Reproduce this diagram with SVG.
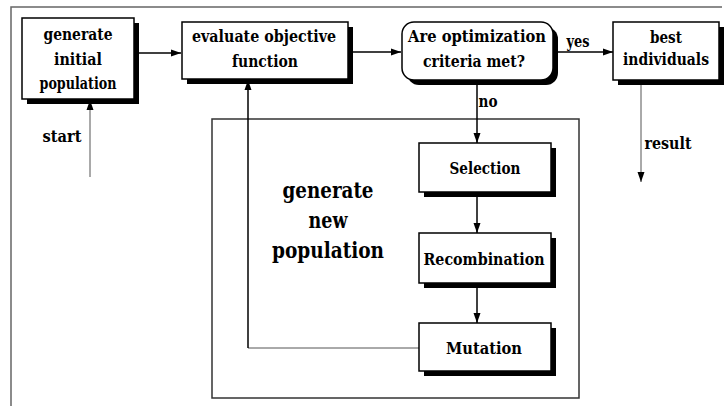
<svg xmlns="http://www.w3.org/2000/svg" width="725" height="406" viewBox="0 0 725 406">
<style>
.box{fill:#fff;stroke:#000;stroke-width:1.5}
.sh{fill:#000}
text{font-family:'DejaVu Serif','Liberation Serif',serif;font-weight:bold;font-size:17px;fill:#000;text-anchor:middle}
.big{font-size:22px}
.lbl{font-size:16px}
.c{fill:none;stroke:#000;stroke-width:1.5}
.g{fill:none;stroke:#555;stroke-width:1}
</style>
<defs>
<marker id="ah" markerUnits="userSpaceOnUse" markerWidth="10" markerHeight="8" refX="10" refY="4" orient="auto">
<path d="M0,0.5 L10,4 L0,7.5 z" fill="#000"/>
</marker>
</defs>
<rect width="725" height="406" fill="#fff"/>
<g id="frame">
<path d="M11,406 V7 H722" fill="none" stroke="#666" stroke-width="1.5"/>
</g>
<g id="newpop">
<rect x="212" y="119" width="367" height="279" fill="none" stroke="#333" stroke-width="1.5"/>
<text class="big" x="328" y="198" textLength="91" lengthAdjust="spacingAndGlyphs">generate</text>
<text class="big" x="328" y="228" textLength="39" lengthAdjust="spacingAndGlyphs">new</text>
<text class="big" x="328" y="258" textLength="112" lengthAdjust="spacingAndGlyphs">population</text>
</g>
<g id="connectors">
<path class="c" d="M134,53 H181" marker-end="url(#ah)"/>
<path class="c" d="M348,52 H401" marker-end="url(#ah)"/>
<path class="c" d="M553,52 H613" marker-end="url(#ah)"/>
<path class="g" d="M90,177 V100" marker-end="url(#ah)"/>
<path class="g" d="M641,80 V182" marker-end="url(#ah)"/>
<path class="c" d="M477,80 V143" marker-end="url(#ah)"/>
<path class="c" d="M477,192 V233" marker-end="url(#ah)"/>
<path class="c" d="M477,283 V323" marker-end="url(#ah)"/>
<path class="g" d="M419,348 H248"/>
<path class="c" d="M248,348 V80" marker-end="url(#ah)"/>
</g>
<g id="labels">
<text class="lbl" x="62" y="142" textLength="39" lengthAdjust="spacingAndGlyphs">start</text>
<text class="lbl" x="578" y="47" textLength="23" lengthAdjust="spacingAndGlyphs">yes</text>
<text class="lbl" x="488" y="107" textLength="19" lengthAdjust="spacingAndGlyphs">no</text>
<text class="lbl" x="668" y="149" textLength="47" lengthAdjust="spacingAndGlyphs">result</text>
</g>
<g id="init">
<rect class="sh" x="27" y="23" width="112" height="81"/>
<rect class="box" x="22" y="18" width="112" height="81"/>
<text x="78" y="40" textLength="69" lengthAdjust="spacingAndGlyphs">generate</text>
<text x="78" y="65" textLength="48" lengthAdjust="spacingAndGlyphs">initial</text>
<text x="78" y="89" textLength="77" lengthAdjust="spacingAndGlyphs">population</text>
</g>
<g id="evaluate">
<rect class="sh" x="187" y="27" width="166" height="57"/>
<rect class="box" x="182" y="22" width="166" height="57"/>
<text x="264" y="42" textLength="144" lengthAdjust="spacingAndGlyphs">evaluate objective</text>
<text x="265" y="67" textLength="66" lengthAdjust="spacingAndGlyphs">function</text>
</g>
<g id="criteria">
<rect class="sh" x="407" y="27" width="151" height="58" rx="12"/>
<rect class="box" x="402" y="22" width="151" height="58" rx="12"/>
<text x="477" y="42" textLength="138" lengthAdjust="spacingAndGlyphs">Are optimization</text>
<text x="474" y="67" textLength="102" lengthAdjust="spacingAndGlyphs">criteria met?</text>
</g>
<g id="best">
<rect class="sh" x="618" y="27" width="106" height="58"/>
<rect class="box" x="613" y="22" width="106" height="58"/>
<text x="666" y="43" textLength="32" lengthAdjust="spacingAndGlyphs">best</text>
<text x="666" y="65" textLength="86" lengthAdjust="spacingAndGlyphs">individuals</text>
</g>
<g id="selection">
<rect class="sh" x="424" y="148" width="132" height="49"/>
<rect class="box" x="419" y="143" width="132" height="49"/>
<text x="485" y="174" textLength="71" lengthAdjust="spacingAndGlyphs">Selection</text>
</g>
<g id="recombination">
<rect class="sh" x="424" y="238" width="132" height="50"/>
<rect class="box" x="419" y="233" width="132" height="50"/>
<text x="484" y="265" textLength="121" lengthAdjust="spacingAndGlyphs">Recombination</text>
</g>
<g id="mutation">
<rect class="sh" x="424" y="328" width="132" height="48"/>
<rect class="box" x="419" y="323" width="132" height="48"/>
<text x="484" y="354" textLength="76" lengthAdjust="spacingAndGlyphs">Mutation</text>
</g>
</svg>
